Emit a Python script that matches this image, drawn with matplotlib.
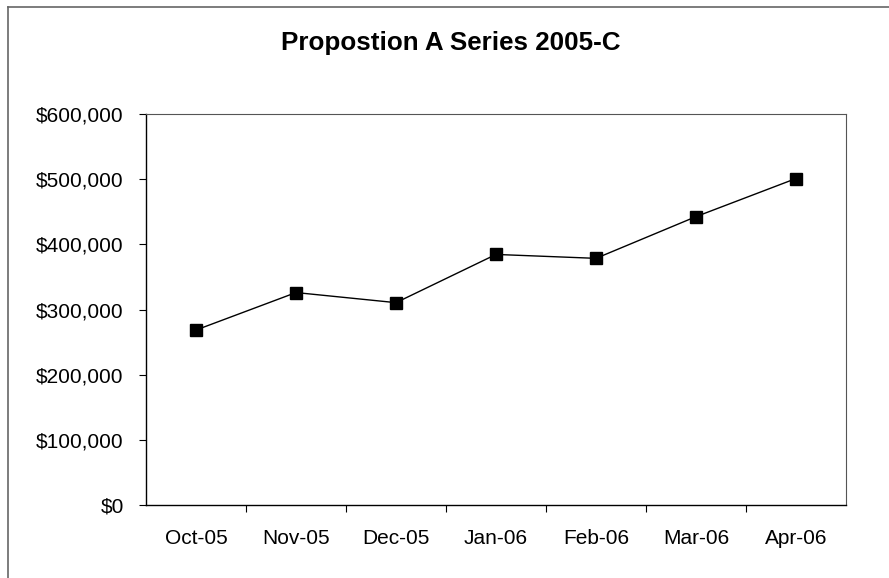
import matplotlib.pyplot as plt
import numpy as np
from matplotlib.ticker import FuncFormatter, FixedLocator

plt.rcParams["font.family"] = ["Liberation Sans", "DejaVu Sans"]

months = ["Oct-05", "Nov-05", "Dec-05", "Jan-06", "Feb-06", "Mar-06", "Apr-06"]
amounts = [268500, 326000, 310500, 384500, 378500, 442500, 501000]

fig = plt.figure(figsize=(8.89, 5.78), dpi=100)
ax = fig.add_axes([146 / 889, 1 - 505 / 578, 700 / 889, 391 / 578])

x = np.arange(len(months))
ax.plot(x, amounts, color="black", linewidth=1.0, marker="s",
        markersize=9, markerfacecolor="black", markeredgecolor="black")

ax.set_xlim(-0.5, len(months) - 0.5)
ax.set_ylim(0, 600000)
ax.set_yticks(np.arange(0, 600001, 100000))
ax.yaxis.set_major_formatter(FuncFormatter(lambda v, p: f"${v:,.0f}"))

ax.set_xticks(x)
ax.set_xticklabels(months)
ax.xaxis.set_minor_locator(FixedLocator(np.arange(0.5, len(months) - 1, 1)))
ax.tick_params(axis="x", which="major", length=0, pad=17, labelsize=15)
ax.tick_params(axis="x", which="minor", length=5, direction="out", width=0.8)
ax.tick_params(axis="y", length=5, direction="out", pad=11, labelsize=15, width=0.8)

for side in ["left", "bottom"]:
    ax.spines[side].set_color("black")
    ax.spines[side].set_linewidth(1.0)
for side in ["top", "right"]:
    ax.spines[side].set_color("#555555")
    ax.spines[side].set_linewidth(0.8)

fig.text(451 / 889, 1 - 43 / 578, "Propostion A Series 2005-C",
         ha="center", va="center", fontsize=18.7, fontweight="bold")

# outer chart border (only top and left edges visible in the scan)
fig.add_artist(plt.Line2D([8 / 889, 8 / 889], [0, 1 - 6.5 / 578],
                          transform=fig.transFigure, color="#666666", linewidth=1.2))
fig.add_artist(plt.Line2D([8 / 889, 1], [1 - 6.5 / 578, 1 - 6.5 / 578],
                          transform=fig.transFigure, color="#666666", linewidth=1.2))

fig.savefig("out.png", dpi=100)
